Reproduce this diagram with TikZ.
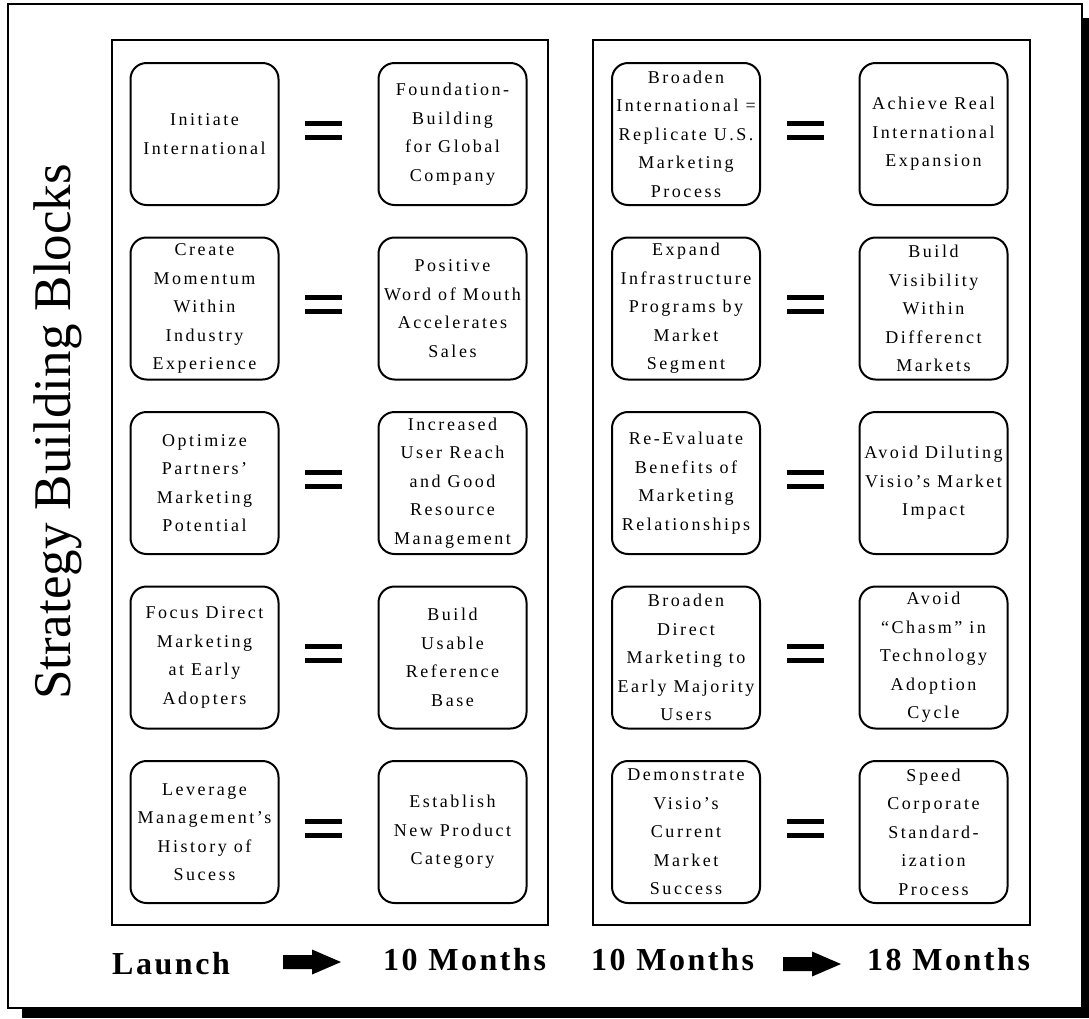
\documentclass[tikz,border=0pt]{standalone}
\usepackage{fontspec}
\setmainfont{Liberation Serif}
\newfontfamily\blockfont[LetterSpace=14]{Liberation Serif}
\newfontfamily\periodfont[LetterSpace=8]{Liberation Serif}

% a rounded block with its centred caption
\newcommand\bblock[3]{%
  \node[blk] (#1) at #2 {};
  \node[blktext] (#1-txt) at (#1.center) {#3};}

\begin{document}
\begin{tikzpicture}[x=1pt,y=-1pt,
  blk/.style={draw, line width=2pt, rounded corners=16pt,
    minimum width=148pt, minimum height=142pt, inner sep=0pt},
  blktext/.style={align=center, inner sep=0pt,
    font=\blockfont\fontsize{18}{28.5}\selectfont},
  panel/.style={draw, line width=2pt},
  period/.style={anchor=base west, inner sep=0pt,
    font=\periodfont\bfseries\fontsize{32}{38}\selectfont},
  eqbars/.pic={\fill (-18.5,-9.5) rectangle (18.5,-4.5);
               \fill (-18.5,4.5) rectangle (18.5,9.5);},
  blockarrow/.pic={\fill (0,-7) -- (29,-7) -- (29,-12.5) -- (58,0)
               -- (29,12.5) -- (29,7) -- (0,7) -- cycle;}]
\useasboundingbox (0,0) rectangle (1089,1018);

% page frame with drop shadow
\fill (22,18) rectangle (1089,1018);
\draw[line width=2.5pt, fill=white] (8,4) rectangle (1082,1008);

% title
\node[rotate=90, anchor=base, inner sep=0pt,
      font=\fontsize{53}{60}\selectfont] (title) at (70,432)
  {Strategy Building Blocks};

% the two phase panels
\draw[panel] (112,40) rectangle (548,925);
\draw[panel] (593,40) rectangle (1030,925);

% phase one: launch to 10 months
\bblock{a1}{(204.5,134)}{Initiate\\International}
\bblock{b1}{(452.5,134)}{Foundation-\\Building\\for Global\\Company}
\bblock{a2}{(204.5,308.5)}{Create\\Momentum\\Within\\Industry\\Experience}
\bblock{b2}{(452.5,308.5)}{Positive\\Word of Mouth\\Accelerates\\Sales}
\bblock{a3}{(204.5,483)}{Optimize\\Partners’\\Marketing\\Potential}
\bblock{b3}{(452.5,483)}{Increased\\User Reach\\and Good\\Resource\\Management}
\bblock{a4}{(204.5,657.5)}{Focus Direct\\Marketing\\at Early\\Adopters}
\bblock{b4}{(452.5,657.5)}{Build\\Usable\\Reference\\Base}
\bblock{a5}{(204.5,832)}{Leverage\\Management’s\\History of\\Sucess}
\bblock{b5}{(452.5,832)}{Establish\\New Product\\Category}

% phase two: 10 to 18 months
\bblock{c1}{(686,134)}{Broaden\\International =\\Replicate U.S.\\Marketing\\Process}
\bblock{d1}{(933.5,134)}{Achieve Real\\International\\Expansion}
\bblock{c2}{(686,308.5)}{Expand\\Infrastructure\\Programs by\\Market\\Segment}
\bblock{d2}{(933.5,308.5)}{Build\\Visibility\\Within\\Differenct\\Markets}
\bblock{c3}{(686,483)}{Re-Evaluate\\Benefits of\\Marketing\\Relationships}
\bblock{d3}{(933.5,483)}{Avoid Diluting\\Visio’s Market\\Impact}
\bblock{c4}{(686,657.5)}{Broaden\\Direct\\Marketing to\\Early Majority\\Users}
\bblock{d4}{(933.5,657.5)}{Avoid\\“Chasm” in\\Technology\\Adoption\\Cycle}
\bblock{c5}{(686,832)}{Demonstrate\\Visio’s\\Current\\Market\\Success}
\bblock{d5}{(933.5,832)}{Speed\\Corporate\\Standard-\\ization\\Process}

% equals signs between each pair
\foreach \y in {130,304.5,479,653.5,828} {
  \pic at (323.5,\y) {eqbars};
  \pic at (805,\y) {eqbars};
}

% timeline
\node[period] (launch) at (112,974) {Launch};
\pic at (283,962) {blockarrow};
\node[period] (tenA) at (383,970) {10 Months};
\node[period] (tenB) at (591,970) {10 Months};
\pic at (783,964) {blockarrow};
\node[period] (eighteen) at (867,970) {18 Months};
\end{tikzpicture}
\end{document}
